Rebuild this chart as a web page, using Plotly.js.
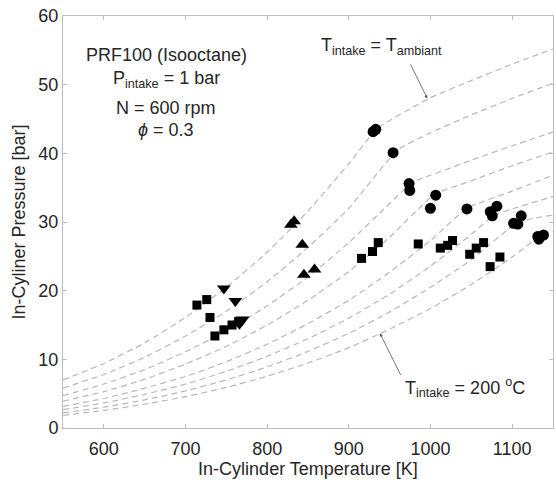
<!DOCTYPE html>
<html>
<head>
<meta charset="utf-8">
<script src="https://cdn.plot.ly/plotly-3.0.1.min.js"></script>
<style>html,body{margin:0;padding:0;background:#fff;}#chart{width:556px;height:484px;}</style>
</head>
<body>
<div id="chart"></div>
<script>
// ---- data ----
const circleT = [929.7, 933, 954.2, 973.7, 974.6, 1006.4, 999.9, 1044.6, 1073.2, 1075.7, 1081.3, 1101.7, 1111.1, 1107, 1131.4, 1138.4, 1132.7];
const circleP = [43.15, 43.5, 40.1, 35.6, 34.6, 33.9, 32.0, 31.9, 31.5, 30.9, 32.3, 29.8, 30.9, 29.7, 27.9, 28.1, 27.5];
const triUpT = [829, 833, 843, 845, 858];
const triUpP = [29.6, 30.1, 26.7, 22.3, 23.1];
const triDownT = [747, 761, 770, 766];
const triDownP = [20.3, 18.5, 15.8, 15.2];
const squareT = [714, 726, 730, 736, 747, 757, 765, 915.5, 929, 936, 985, 1012, 1021, 1027, 1048, 1056, 1065, 1073, 1085];
const squareP = [17.9, 18.7, 16.1, 13.4, 14.3, 15.0, 15.5, 24.7, 25.7, 27.0, 26.8, 26.2, 26.6, 27.3, 25.3, 26.2, 27.0, 23.5, 24.9];

// dashed compression curves (top: T_intake = T_ambiant ... bottom: T_intake = 200 C)
const curve1T = [550, 600, 650, 700, 750, 800, 850, 900, 935, 1000, 1050, 1100, 1150];
const curve1P = [7.0, 9.4, 12.4, 16.1, 20.5, 25.6, 31.6, 38.5, 43.6, 48.1, 50.6, 53.0, 55.2];
const curve2T = [550, 600, 650, 700, 750, 800, 850, 900, 960, 1000, 1050, 1100, 1150];
const curve2P = [5.8, 7.8, 10.3, 13.4, 17.0, 21.3, 26.3, 32.0, 40.5, 43.0, 45.6, 48.0, 50.2];
const curve3T = [550, 600, 650, 700, 750, 800, 850, 900, 950, 978, 1000, 1050, 1100, 1150];
const curve3P = [4.7, 6.4, 8.5, 11.1, 14.1, 17.8, 22.0, 27.0, 32.7, 35.8, 36.8, 39.0, 41.1, 43.1];
const curve4T = [550, 600, 650, 700, 750, 800, 850, 900, 950, 1005, 1050, 1100, 1150];
const curve4P = [3.9, 5.3, 7.1, 9.3, 11.9, 15.0, 18.6, 22.8, 27.8, 34.0, 36.0, 38.2, 40.2];
const curve5T = [550, 600, 650, 700, 750, 800, 850, 900, 950, 1000, 1045, 1100, 1150];
const curve5P = [3.15, 4.3, 5.8, 7.5, 9.65, 12.2, 15.2, 18.6, 22.7, 27.3, 32.0, 34.5, 36.8];
const curve6T = [550, 600, 650, 700, 750, 800, 850, 900, 950, 1000, 1050, 1078, 1100, 1150];
const curve6P = [2.66, 3.65, 4.9, 6.4, 8.25, 10.45, 13.0, 16.0, 19.5, 23.6, 28.2, 31.0, 31.9, 33.7];
const curve7T = [550, 600, 650, 700, 750, 800, 850, 900, 950, 1000, 1050, 1108, 1150];
const curve7P = [2.2, 3.04, 4.1, 5.4, 7.0, 8.9, 11.15, 13.8, 16.9, 20.5, 24.5, 30.0, 31.0];
const curve8T = [550, 600, 650, 700, 750, 800, 850, 900, 950, 1000, 1050, 1100, 1135, 1150];
const curve8P = [1.85, 2.56, 3.46, 4.57, 5.92, 7.54, 9.46, 11.7, 14.4, 17.4, 20.9, 24.9, 28.0, 28.6];

const xTicks = [600, 700, 800, 900, 1000, 1100];
const yTicks = [0, 10, 20, 30, 40, 50, 60];

// ---- build figure ----
const FONT = 'Helvetica, Arial, "Liberation Sans", sans-serif';
const curves = [[curve1T, curve1P], [curve2T, curve2P], [curve3T, curve3P], [curve4T, curve4P],
                [curve5T, curve5P], [curve6T, curve6P], [curve7T, curve7P], [curve8T, curve8P]];
const traces = curves.map(c => ({
  x: c[0], y: c[1], type: 'scatter', mode: 'lines',
  line: {color: '#b8b8b8', width: 1.2, dash: '6px,4px', shape: 'spline', smoothing: 0.5},
  hoverinfo: 'skip', showlegend: false
}));
function markers(x, y, symbol, size) {
  return {x: x, y: y, type: 'scatter', mode: 'markers', showlegend: false,
          marker: {symbol: symbol, size: size, color: '#000', line: {width: 0}}};
}
traces.push(markers(squareT, squareP, 'square', 9));
traces.push(markers(triUpT, triUpP, 'triangle-up', 12));
traces.push(markers(triDownT, triDownP, 'triangle-down', 12));
traces.push(markers(circleT, circleP, 'circle', 11));

const axisCommon = {
  showgrid: false, zeroline: false, showline: true, linecolor: '#bdbdbd', linewidth: 1,
  mirror: 'allticks', ticks: 'inside', ticklen: 4, tickcolor: '#bdbdbd',
  tickfont: {family: FONT, size: 18, color: '#262626'}
};
const txt = {family: FONT, size: 18, color: '#262626'};
const layout = {
  width: 556, height: 484,
  margin: {l: 63, r: 3, t: 16, b: 56},
  paper_bgcolor: '#fff', plot_bgcolor: '#fff',
  xaxis: Object.assign({}, axisCommon, {
    range: [550, 1150], tickvals: xTicks, ticktext: xTicks.map(String),
    ticklabelstandoff: 4,
    title: {text: 'In-Cylinder Temperature [K]', font: txt, standoff: 2}
  }),
  yaxis: Object.assign({}, axisCommon, {
    range: [0, 60], tickvals: yTicks, ticktext: yTicks.map(String),
    title: {text: 'In-Cyliner Pressure [bar]', font: txt, standoff: 8}
  }),
  annotations: [
    {x: 166, y: 55, text: 'PRF100 (Isooctane)', showarrow: false, font: txt},
    {x: 166, y: 80, text: 'P<sub>intake</sub> = 1 bar', showarrow: false, font: txt},
    {x: 166, y: 108, text: 'N = 600 rpm', showarrow: false, font: txt},
    {x: 166, y: 130, text: '<i>ϕ</i> = 0.3', showarrow: false, font: txt},
    {x: 381, y: 47, text: 'T<sub>intake</sub> = T<sub>ambiant</sub>', showarrow: false, font: txt},
    {x: 465, y: 387, text: 'T<sub>intake</sub> = 200 <sup>o</sup>C', showarrow: false, font: txt},
    {x: 996, y: 48.0, ax: 974.6, ay: 53.2, xref: 'x', yref: 'y', axref: 'x', ayref: 'y', text: '',
     showarrow: true, arrowhead: 2, arrowsize: 0.8, arrowwidth: 0.8, arrowcolor: '#555', standoff: 0},
    {x: 938, y: 13.8, ax: 964.4, ay: 7.5, xref: 'x', yref: 'y', axref: 'x', ayref: 'y', text: '',
     showarrow: true, arrowhead: 2, arrowsize: 0.8, arrowwidth: 0.8, arrowcolor: '#555', standoff: 0}
  ]
};
// convert pixel-positioned text annotations to paper coordinates
const L = 63, T = 16, W = 556 - 63 - 3, H = 484 - 16 - 56;
layout.annotations.forEach(a => {
  if (a.xref !== 'x') {
    a.xref = 'paper'; a.yref = 'paper';
    a.x = (a.x - L) / W; a.y = 1 - (a.y - T) / H;
    a.xanchor = 'center'; a.yanchor = 'middle';
  }
});
Plotly.newPlot('chart', traces, layout, {displayModeBar: false, staticPlot: true});
</script>
</body>
</html>
